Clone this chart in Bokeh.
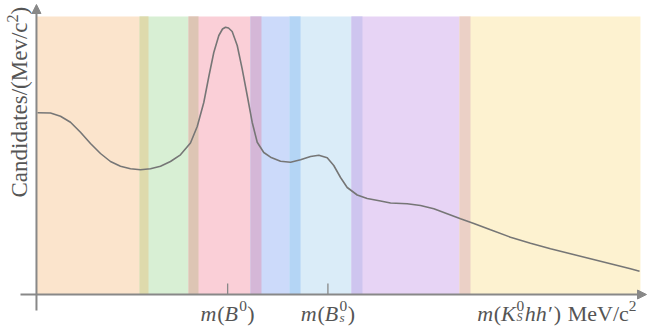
import math
from bokeh.plotting import figure
from bokeh.models import Range1d, Arrow, NormalHead, Label
from bokeh.embed import file_html
from bokeh.resources import INLINE

# ---------------- data ----------------
# mass windows (MeV/c^2) shaded on the spectrum
band_lo = [5113.3, 5203.0, 5245.6, 5299.5, 5333.5, 5387.4, 5481.4]
band_hi = [5210.8, 5254.3, 5309.1, 5343.1, 5397.0, 5491.0, 5638.9]
band_colors = ["#FBE4CC", "#D8EFD4", "#FACFD7", "#CCDAFA", "#DAECF8", "#E7D4F5", "#FDF2D0"]
overlap_colors = ["#DEDAAC", "#DDC5B4", "#D5B7D7", "#B4D5F5", "#CEC5EF", "#EBD0C6"]
band_top = 278

# invariant-mass spectrum (schematic)
curve_m = [5114.2, 5125.5, 5134.2, 5142.9, 5151.6, 5160.3, 5169.0, 5177.7, 5186.4, 5195.1,
           5203.8, 5212.5, 5221.2, 5229.9, 5238.6, 5247.3, 5253.2, 5258.9, 5263.3, 5267.6,
           5272.0, 5275.2, 5277.8, 5280.4, 5283.6, 5288.0, 5292.3, 5296.7, 5301.0, 5305.4,
           5311.1, 5317.0, 5325.7, 5334.4, 5343.1, 5351.8, 5359.0, 5366.3, 5372.0, 5377.9,
           5383.7, 5392.4, 5401.1, 5412.7, 5421.4, 5435.9, 5447.5, 5459.1, 5470.7, 5482.3,
           5493.9, 5508.4, 5525.8, 5543.2, 5560.6, 5578.0, 5595.4, 5612.8, 5630.2, 5638.1]
curve_y = [181.7, 181.5, 178.3, 172.3, 162.3, 151.0, 141.0, 133.0, 128.3, 125.7,
           124.7, 125.7, 128.3, 133.0, 139.7, 151.5, 168.0, 192.0, 218.0, 242.0,
           259.0, 265.5, 267.3, 266.5, 263.0, 249.0, 225.7, 199.0, 172.3, 152.3,
           142.0, 137.3, 133.3, 132.3, 134.7, 138.0, 139.3, 136.7, 129.0, 117.0,
           107.0, 99.5, 96.0, 93.5, 91.5, 90.7, 89.0, 85.7, 80.7, 75.7,
           71.0, 64.7, 57.3, 51.3, 45.7, 40.7, 35.7, 30.7, 25.7, 23.3]

tick_masses = [5279.66, 5366.92]

# ---------------- figure ----------------
W, H = 647, 326
MEV_PER_PX = 0.8702
X0 = 5082.0
p = figure(width=W, height=H, output_backend="svg", toolbar_location=None,
           x_range=Range1d(X0, X0 + W * MEV_PER_PX), y_range=Range1d(-32, 294),
           x_axis_type=None, y_axis_type=None, min_border=0,
           outline_line_color=None, background_fill_color="white",
           border_fill_color="white")
p.grid.visible = False

p.quad(left=band_lo, right=band_hi, bottom=0, top=band_top, color=band_colors, line_color=None)
ov_l = [max(band_lo[i + 1], band_lo[i]) for i in range(len(band_lo) - 1)]
ov_r = [min(band_hi[i], band_hi[i + 1]) for i in range(len(band_lo) - 1)]
p.quad(left=ov_l, right=ov_r, bottom=0, top=band_top, color=overlap_colors, line_color=None)

p.line(curve_m, curve_y, line_color="#767676", line_width=1.6)

AX = "#888888"
AXIS_X = band_lo[0]
p.add_layout(Arrow(end=NormalHead(size=9, fill_color=AX, line_color=AX, line_width=1),
                   x_start=X0 + 20 * MEV_PER_PX, y_start=0, x_end=X0 + 646 * MEV_PER_PX, y_end=0,
                   line_color=AX, line_width=2))
p.add_layout(Arrow(end=NormalHead(size=9, fill_color=AX, line_color=AX, line_width=1),
                   x_start=AXIS_X, y_start=-16, x_end=AXIS_X, y_end=290,
                   line_color=AX, line_width=2))
p.segment(x0=tick_masses, y0=[0] * 2, x1=tick_masses, y1=[11] * 2, line_color=AX, line_width=1.3)

# ---------------- text ----------------
WID = {
    "normal": {"(": .333, ")": .333, " ": .25, "M": .889, "e": .444, "V": .722, "/": .278,
               "c": .444, "0": .5, "2": .5, "C": .667, "a": .444, "n": .5, "d": .5, "i": .278,
               "t": .278, "s": .389, "v": .5},
    "italic": {"m": .722, "B": .611, "K": .667, "S": .5, "s": .389, "h": .5, "\u2032": .3},
}
TC = "#555555"
FONT = "Liberation Serif"
DELTA = 0.35  # shift (in em) between anchor and rendered baseline


def lay(pieces, F):
    out = []
    x = 0.0
    last_x, last_w = 0.0, 0.0
    for txt, style, scale, shift, stack, gap in pieces:
        size = F * scale
        w = sum(WID[style].get(ch, .5) for ch in txt) * size
        if stack:
            px = last_x
            x = last_x + max(last_w, w) + gap * F
        else:
            px = x + 0.0
            x = x + w + gap * F
        out.append((txt, style, size, px, shift * F))
        last_x, last_w = px, w
    return out, x


def hlabel(pieces, F, x, x_units, base_y, align):
    items, total = lay(pieces, F)
    start = -total / 2 if align == "center" else -total
    for txt, style, size, px, dy in items:
        p.add_layout(Label(x=x, y=base_y + dy + DELTA * size, x_units=x_units, y_units="data",
                           x_offset=start + px, text=txt, text_font=FONT,
                           text_font_style=style, text_font_size=f"{size:.1f}px",
                           text_color=TC, text_align="left", text_baseline="alphabetic"))


FX = 22
BASE = -26.5
SUB = -.03
hlabel([("m", "italic", 1, 0, False, .03), ("(", "normal", 1, 0, False, 0), ("B", "italic", 1, 0, False, .06),
        ("0", "normal", .7, .42, False, .02), (")", "normal", 1, 0, False, 0)],
       FX, tick_masses[0], "data", BASE, "center")
hlabel([("m", "italic", 1, 0, False, .03), ("(", "normal", 1, 0, False, 0), ("B", "italic", 1, 0, False, .06),
        ("0", "normal", .7, .42, False, 0), ("s", "italic", .6, SUB, True, .02), (")", "normal", 1, 0, False, 0)],
       FX, tick_masses[1], "data", BASE, "center")
hlabel([("m", "italic", 1, 0, False, .03), ("(", "normal", 1, 0, False, 0), ("K", "italic", 1, 0, False, .04),
        ("0", "normal", .7, .42, False, 0), ("S", "italic", .55, SUB, True, .02),
        ("hh\u2032", "italic", 1, 0, False, .02), (")", "normal", 1, 0, False, .3),
        ("MeV/c", "normal", 1, 0, False, 0), ("2", "normal", .7, .42, False, 0)],
       FX, 636, "screen", BASE, "right")

# rotated y label
FY = 23
items, total = lay([("Candidates/(Mev/c", "normal", 1, 0, False, 0), ("2", "normal", .7, .42, False, 0),
                    (")", "normal", 1, 0, False, 0)], FY)
for txt, style, size, px, dy in items:
    p.add_layout(Label(x=27 - dy - DELTA * size, y=97 + px, x_units="screen", y_units="data",
                       angle=math.pi / 2, text=txt, text_font=FONT, text_font_style=style,
                       text_font_size=f"{size:.1f}px", text_color=TC,
                       text_align="left", text_baseline="alphabetic"))

open("out.html", "w").write(file_html(p, INLINE))
